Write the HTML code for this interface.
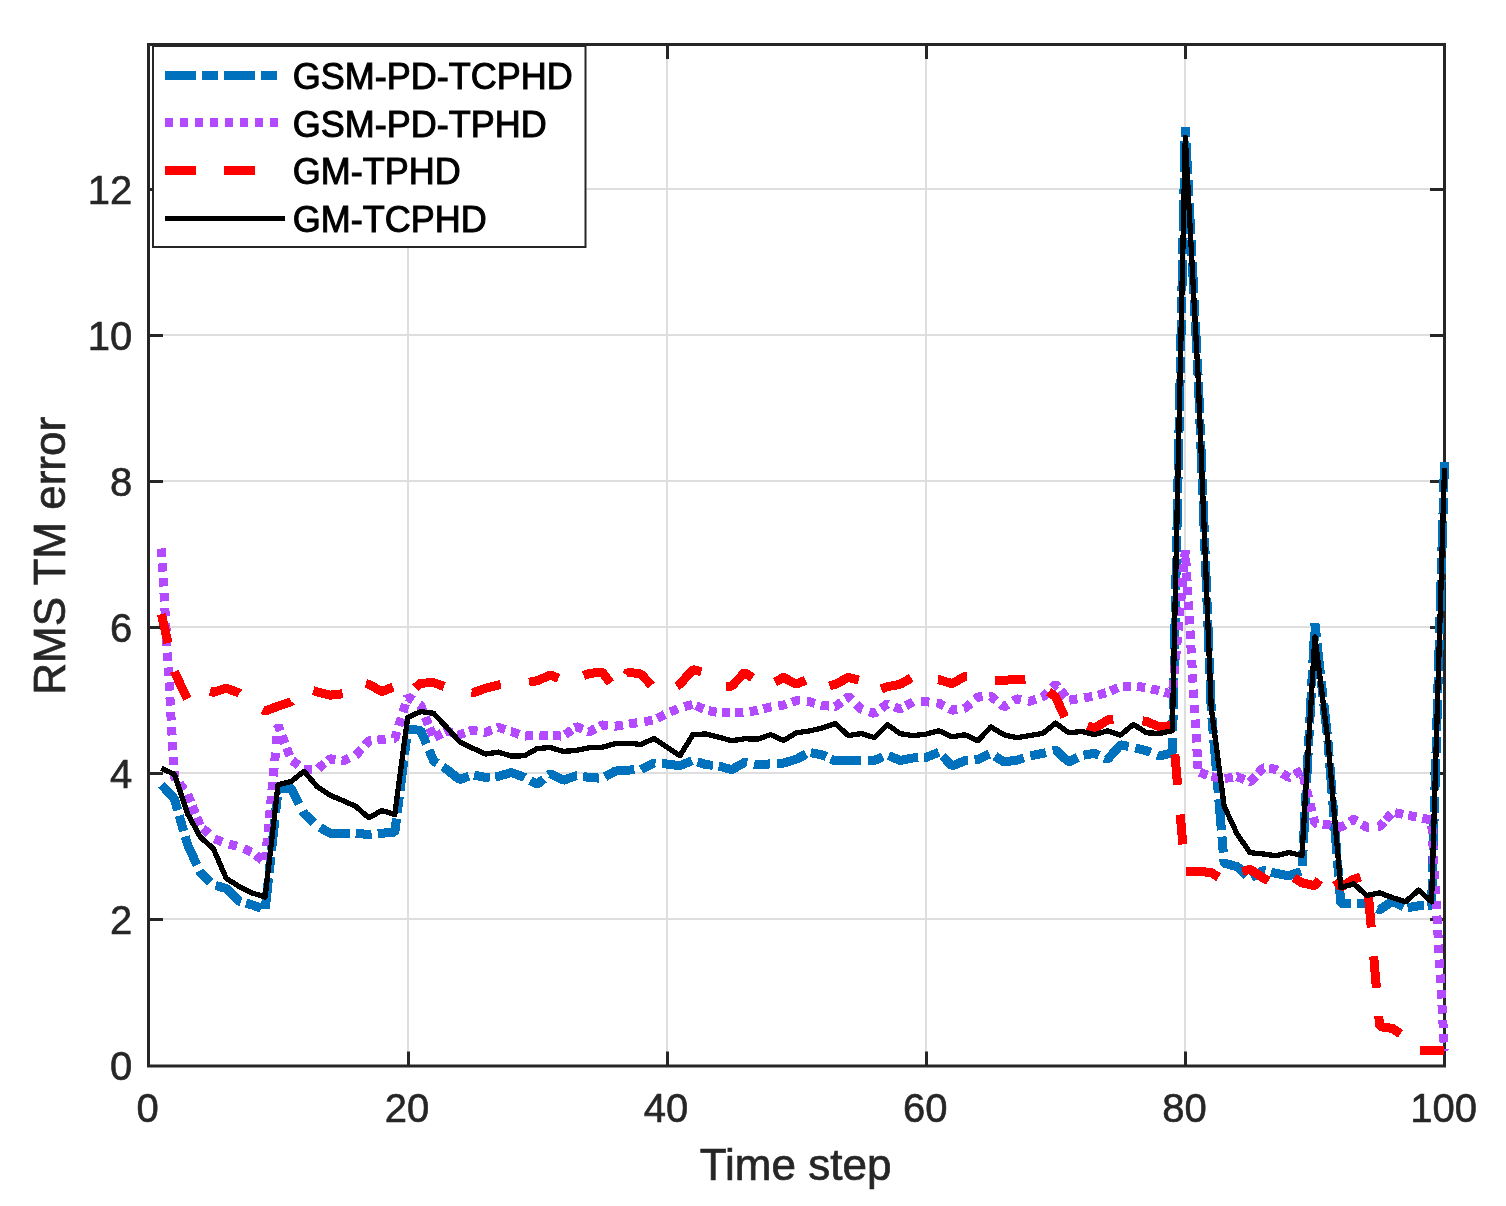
<!DOCTYPE html>
<html lang="en"><head><meta charset="utf-8"><title>RMS TM error</title>
<style>
html,body{margin:0;padding:0;background:#fff;}
body{width:1506px;height:1206px;overflow:hidden;}
svg{display:block;}
text{font-family:"Liberation Sans",Arial,Helvetica,sans-serif;}
.tk{font-size:40px;fill:#262626;stroke:#262626;stroke-width:.6px;}
.lb{font-size:44px;fill:#262626;stroke:#262626;stroke-width:.7px;}
.lg{font-size:36px;fill:#000;stroke:#000;stroke-width:1px;}
.d{fill:none;stroke-linejoin:bevel;stroke-linecap:butt;shape-rendering:crispEdges;}
.k{fill:none;stroke-linejoin:round;stroke-linecap:butt;shape-rendering:crispEdges;}
</style></head><body>
<svg width="1506" height="1206" viewBox="0 0 1506 1206">
<rect x="0" y="0" width="1506" height="1206" fill="#ffffff"/>
<path d="M408,44.5V1066M667,44.5V1066M926,44.5V1066M1185,44.5V1066M148.5,919H1444.5M148.5,773H1444.5M148.5,627H1444.5M148.5,481H1444.5M148.5,335H1444.5M148.5,189H1444.5" stroke="#dedede" stroke-width="2" fill="none"/>
<path d="M408.5,1066v-14.5M408.5,44.5v14.5M667.5,1066v-14.5M667.5,44.5v14.5M926.5,1066v-14.5M926.5,44.5v14.5M1185.5,1066v-14.5M1185.5,44.5v14.5M148.5,919.5h14.5M1444.5,919.5h-14.5M148.5,773.5h14.5M1444.5,773.5h-14.5M148.5,627.5h14.5M1444.5,627.5h-14.5M148.5,481.5h14.5M1444.5,481.5h-14.5M148.5,335.5h14.5M1444.5,335.5h-14.5M148.5,189.5h14.5M1444.5,189.5h-14.5" stroke="#262626" stroke-width="3" fill="none"/>
<rect x="148.5" y="44.5" width="1296.0" height="1021.5" fill="none" stroke="#262626" stroke-width="3"/>
<path class="d" d="M161.46,784.76L174.42,798.85L177.68,810.25M179.24,815.68L183.64,831.06M185.20,836.50L187.38,844.11L197.00,865.09M199.63,870.80L200.34,872.36L210.57,882.33M215.70,885.61L226.26,888.35L239.22,901.20L240.99,901.70M245.94,903.13L252.18,904.92L261.08,908.28M265.23,909.00L268.54,878.18M269.17,872.34L270.88,856.43M271.51,850.60L274.83,819.78M275.62,812.42L277.33,796.51M278.30,789.34L291.06,787.90L299.27,804.09M302.87,811.18L304.02,813.45L313.74,822.76M320.00,827.56L329.94,833.16L342.90,833.16L349.53,833.16M355.74,833.16L355.86,833.16L368.82,834.62L371.64,834.30M377.80,833.61L381.78,833.16L394.74,832.43L396.49,818.53M397.22,812.70L399.22,796.82M399.96,790.99L403.83,760.23M404.56,754.40L406.56,738.53M407.30,732.70L407.70,729.50L420.66,730.23L426.42,743.86M429.06,750.10L433.62,760.89L437.21,763.22M442.90,766.90L446.58,769.28L459.54,779.65L468.91,776.11M474.10,775.07L485.46,777.31L489.86,776.94M495.30,776.48L498.42,776.22L511.38,772.57L524.34,777.31L524.87,777.60M530.46,780.59L537.30,784.25L543.69,779.03M548.60,775.02L550.26,773.66L563.22,780.31L576.18,775.71L576.72,775.78M583.09,776.57L589.14,777.31L599.01,778.15M605.00,776.78L615.06,771.11L628.02,770.09L634.47,769.87M641.07,769.61L653.94,763.08L655.50,763.19M662.10,763.68L666.90,764.03L679.86,765.71L692.02,760.78M697.41,761.90L705.78,764.54L712.96,765.35M718.60,765.98L718.74,766.00L731.70,769.65L744.66,762.35L747.13,762.86M754.11,764.32L757.62,765.05L769.98,763.87M777.10,763.44L783.54,763.08L796.50,759.06L806.27,754.06M810.85,752.70L822.42,755.05L826.24,756.77M830.80,758.83L835.38,760.89L848.34,760.45L861.30,760.45L861.35,760.45M867.57,760.45L874.26,760.45L882.86,756.87M888.60,755.63L900.18,760.52L913.14,757.97L918.35,757.74M923.74,757.49L926.10,757.39L938.74,752.26M942.50,755.81L952.02,766.00L964.98,760.67L968.01,760.38M974.58,759.75L977.94,759.43L989.38,754.08M995.00,756.10L1003.86,761.98L1016.82,760.16L1023.76,757.97M1030.37,755.95L1042.74,753.37L1046.00,752.55M1052.70,750.85L1055.70,750.09L1068.66,761.98L1077.86,757.32M1083.58,755.11L1094.58,753.37L1098.98,755.43M1104.60,758.06L1107.54,759.43L1120.50,744.83L1128.58,746.42M1135.38,747.87L1146.42,750.67L1150.68,752.44M1157.10,755.12L1159.38,756.07L1172.34,752.86L1172.65,737.69M1172.79,731.33L1173.12,715.33M1173.25,708.97L1173.89,677.98M1174.02,671.62L1174.36,655.63M1174.49,649.27L1175.13,618.28M1175.26,611.92L1175.59,595.92M1175.72,589.56L1176.37,558.57M1176.50,552.21L1176.83,536.22M1176.96,529.86L1177.60,498.87M1177.74,492.51L1178.07,476.51M1178.20,470.15L1178.84,439.16M1178.97,432.80L1179.31,416.81M1179.44,410.45L1180.08,379.46M1180.21,373.10L1180.54,357.10M1180.68,350.74L1181.32,319.75M1181.45,313.39L1181.78,297.40M1181.91,291.04L1182.56,260.05M1182.69,253.69L1183.02,237.69M1183.15,231.33L1183.79,200.34M1183.92,193.98L1184.26,177.99M1184.39,171.63L1185.03,140.64M1185.16,134.28L1185.30,127.61L1185.78,136.94M1186.11,143.29L1187.70,174.25M1188.03,180.60L1188.85,196.58M1189.18,202.93L1190.78,233.89M1191.10,240.24L1191.93,256.22M1192.25,262.57L1193.85,293.53M1194.18,299.88L1195.00,315.85M1195.33,322.21L1196.92,353.16M1197.25,359.51L1198.07,375.49M1198.37,381.85L1199.58,412.82M1199.83,419.18L1200.46,435.16M1200.71,441.52L1201.93,472.49M1202.18,478.85L1202.81,494.84M1203.06,501.19L1204.27,532.17M1204.52,538.52L1205.15,554.51M1205.40,560.86L1206.62,591.84M1206.87,598.19L1207.49,614.18M1207.74,620.53L1208.96,651.51M1209.21,657.86L1209.84,673.85M1210.09,680.20L1211.22,709.06L1211.40,711.18M1211.93,717.51L1213.27,733.46M1213.80,739.79L1216.40,770.68M1216.93,777.02L1218.27,792.96M1218.81,799.30L1221.40,830.19M1221.94,836.62L1223.28,852.57M1223.82,859.00L1224.18,863.24L1237.14,866.59L1246.95,875.66M1251.41,877.75L1263.06,870.54L1265.30,871.02M1271.00,872.24L1276.02,873.31L1288.98,875.79L1300.90,871.49M1302.22,865.72L1303.06,849.74M1303.40,843.24L1305.02,812.28M1305.36,805.78L1306.20,789.80M1306.54,783.29L1308.16,752.34M1308.50,745.83L1309.34,729.86M1309.68,723.35L1311.30,692.39M1311.64,685.89L1312.48,669.91M1312.82,663.41L1314.44,632.45M1314.78,625.95L1314.90,623.65L1316.41,637.27M1317.13,643.74L1320.55,674.55M1321.27,681.02L1323.03,696.93M1323.75,703.40L1327.17,734.21M1327.88,740.68L1329.15,756.63M1329.66,763.13L1332.12,794.03M1332.63,800.52L1333.90,816.47M1334.41,822.96L1336.87,853.87M1337.38,860.36L1338.65,876.31M1339.17,882.80L1340.82,903.61L1350.95,903.61M1356.71,903.52L1366.74,903.24L1372.06,905.94M1377.20,908.54L1379.70,909.81L1392.66,901.05L1403.73,906.97M1407.65,907.64L1418.58,905.79L1423.50,905.79M1427.70,905.79L1431.54,905.79L1432.33,878.65M1432.52,872.28L1432.99,856.29M1433.17,849.93L1434.08,818.94M1434.26,812.58L1434.73,796.59M1434.92,790.22L1435.82,759.24M1436.01,752.87L1436.48,736.88M1436.66,730.52L1437.57,699.53M1437.75,693.17L1438.22,677.18M1438.41,670.81L1439.31,639.83M1439.50,633.47L1439.97,617.47M1440.15,611.11L1441.06,580.12M1441.24,573.76L1441.71,557.77M1441.90,551.40L1442.80,520.42M1442.99,514.06L1443.46,498.06M1443.64,491.70L1444.50,462.32" stroke="#0072bd" stroke-width="9"/>
<path class="d" d="M161.46,548.46L161.93,556.75M162.30,563.33L162.77,571.62M163.15,578.21L163.62,586.50M163.99,593.08L164.46,601.37M164.83,607.96L165.30,616.25M165.68,622.83L166.15,631.12M166.52,637.71L166.99,645.99M167.37,652.58L167.84,660.87M168.21,667.46L168.68,675.74M169.06,682.37L169.53,690.66M169.90,697.29L170.37,705.58M170.75,712.21L171.22,720.49M171.59,727.12L172.06,735.41M172.44,742.04L172.91,750.33M173.29,756.96L173.76,765.24M174.08,770.92L174.42,776.95L175.80,778.74M179.27,783.24L184.34,789.81M187.65,794.40L190.75,802.10M192.31,805.96L195.41,813.65M196.97,817.51L200.08,825.21M202.82,828.26L208.78,834.04M214.52,838.89L222.28,841.85M228.98,844.07L237.02,846.11M243.80,848.68L251.40,852.02M255.61,855.01L262.19,860.08M265.33,860.32L266.11,852.06M266.66,846.31L267.44,838.04M267.98,832.29L268.76,824.03M269.30,818.28L270.08,810.01M270.63,804.26L271.41,796.00M271.95,790.25L272.73,781.98M273.27,776.23L274.05,767.97M274.71,761.03L275.49,752.77M276.30,744.15L277.08,735.88M277.90,727.26L278.10,725.12L280.25,730.88M282.00,735.55L284.90,743.32M286.65,747.99L289.55,755.76M292.05,760.52L298.75,765.42M303.87,769.18L304.02,769.28L312.14,769.51M318.13,768.68L324.47,763.32M327.82,760.49L329.94,758.70L335.39,759.62M341.40,760.64L342.90,760.89L349.08,758.10M355.80,755.08L355.86,755.05L361.39,748.95M365.01,744.94L368.82,740.74L371.44,740.54M377.36,740.07L381.78,739.72L385.64,739.44M393.86,738.84L394.74,738.77L396.92,731.68M398.72,725.85L401.16,717.92M402.95,712.08L405.39,704.15M407.19,698.31L407.70,696.65L413.14,700.33M419.30,704.49L420.66,705.41L423.15,711.59M425.35,717.03L428.45,724.72M429.67,727.74L432.77,735.43M434.50,737.08L441.90,733.33M444.38,732.08L446.58,730.96L452.19,732.54M456.83,733.85L459.54,734.61L464.73,732.86M469.43,731.27L472.50,730.23L477.49,731.07M484.06,732.18L485.46,732.42L491.86,729.90M497.39,727.72L498.42,727.31L505.23,729.61M511.37,731.69L511.38,731.69L519.23,734.34M524.85,736.05L533.15,735.72M539.45,735.61L547.75,735.79M552.75,735.89L561.05,736.03M565.15,734.66L571.85,729.75M575.11,727.36L576.18,726.58L582.65,729.20M587.98,731.36L589.14,731.84L595.37,728.54M599.85,726.16L602.10,724.97L607.83,725.55M614.80,726.26L615.06,726.29L623.00,724.99M629.00,724.02L637.20,722.77M644.31,721.64L652.49,720.25M657.32,718.26L664.68,714.44M670.16,711.95L677.84,708.80M684.41,706.66L692.39,704.37M696.10,705.68L703.70,709.02M708.54,710.53L716.66,712.26M721.75,712.71L730.05,712.71M735.06,712.52L743.34,712.05M749.68,711.41L757.62,710.52L757.91,710.44M763.41,708.89L770.58,706.87L771.42,706.75M778.29,705.78L783.54,705.04L786.38,704.08M791.77,702.26L796.50,700.66L799.79,700.94M806.82,701.54L809.46,701.76L814.89,703.29M820.82,704.96L822.42,705.41L829.03,706.04M834.79,706.59L835.38,706.65L841.49,701.94M845.56,698.79L848.34,696.65L851.77,699.99M856.03,704.14L861.30,709.28L862.19,709.57M869.35,711.86L874.26,713.44L876.79,711.58M881.25,708.32L887.22,703.95L888.06,704.28M894.44,706.80L900.18,709.06L902.04,708.02M905.88,705.85L913.12,701.77M921.05,701.76L926.10,701.76L929.33,702.12M936.56,702.94L939.06,703.22L944.15,705.97M949.33,708.77L952.02,710.23L957.21,709.47M964.19,708.45L964.98,708.33L970.62,703.38M975.17,699.38L977.94,696.94L982.54,696.71M989.46,696.36L990.90,696.28L996.21,700.63M1000.96,704.50L1003.86,706.87L1007.73,704.47M1013.36,700.98L1016.82,698.84L1020.98,699.64M1028.11,701.00L1029.78,701.32L1036.03,699.21M1041.54,697.35L1042.74,696.94L1047.76,692.02M1052.14,687.73L1055.70,684.24L1057.78,686.82M1060.69,690.43L1065.91,696.89M1069.21,700.21L1077.39,698.82M1084.10,697.73L1092.30,696.49M1098.02,695.11L1105.98,692.74M1110.42,690.97L1117.98,687.56M1122.75,686.34L1131.05,686.01M1136.99,686.40L1145.21,687.51M1151.07,688.80L1159.13,690.75M1164.41,692.23L1172.34,694.46L1172.35,694.40M1172.91,688.18L1173.65,679.91M1174.21,673.69L1174.96,665.43M1175.52,659.20L1176.26,650.94M1176.82,644.72L1177.57,636.45M1178.13,630.23L1178.87,621.96M1179.43,615.74L1180.18,607.47M1180.74,601.25L1181.49,592.98M1182.05,586.76L1182.79,578.49M1183.35,572.27L1184.10,564.01M1184.66,557.78L1185.30,550.65L1185.37,551.79M1185.73,558.02L1186.22,566.31M1186.58,572.54L1187.07,580.83M1187.43,587.07L1187.92,595.35M1188.28,601.59L1188.77,609.88M1189.14,616.11L1189.62,624.40M1189.99,630.63L1190.47,638.92M1190.84,645.16L1191.32,653.44M1191.69,659.76L1192.18,668.04M1192.55,674.36L1193.03,682.64M1193.44,689.66L1193.93,697.94M1194.34,704.96L1194.83,713.24M1195.20,719.56L1195.68,727.84M1196.05,734.16L1196.54,742.44M1196.91,748.76L1197.39,757.04M1197.63,761.01L1198.11,769.30M1199.60,772.33L1207.40,775.19M1211.40,776.61L1219.60,777.91M1224.70,778.55L1232.90,777.25M1236.86,776.63L1237.14,776.58L1244.52,779.70M1249.81,781.94L1250.10,782.06L1255.51,776.18M1257.89,773.59L1263.06,767.97L1263.72,768.04M1269.17,768.59L1276.02,769.28L1277.21,770.05M1282.42,773.43L1288.98,777.68L1289.40,777.44M1294.53,774.55L1301.76,770.48M1303.29,775.90L1305.26,783.97M1306.65,789.69L1308.62,797.75M1310.02,803.47L1311.99,811.53M1313.39,817.25L1314.90,823.45L1316.81,823.64M1322.67,824.24L1327.86,824.76L1330.89,825.36M1337.42,826.65L1340.82,827.32L1344.93,824.77M1349.77,821.77L1353.78,819.29L1356.83,821.18M1361.77,824.24L1366.74,827.32L1369.19,827.21M1377.81,826.82L1379.70,826.74L1383.95,821.94M1385.75,819.93L1391.25,813.72M1395.04,812.65L1403.16,814.38M1408.33,815.44L1416.47,817.05M1422.33,818.20L1430.47,819.81M1431.86,825.69L1432.32,833.97M1432.70,840.73L1433.17,849.02M1433.55,855.77L1434.01,864.06M1434.39,870.81L1434.86,879.10M1435.24,885.86L1435.70,894.14M1436.08,900.76L1436.54,909.04M1436.91,915.66L1437.38,923.94M1437.71,929.76L1438.17,938.04M1438.54,944.66L1439.01,952.94M1439.38,959.56L1439.84,967.84M1440.22,974.56L1440.69,982.84M1441.10,990.26L1441.57,998.54M1441.95,1005.26L1442.41,1013.54M1442.76,1019.76L1443.23,1028.04M1443.58,1034.26L1444.04,1042.54M1444.40,1048.98L1444.50,1050.70" stroke="#b34aff" stroke-width="9"/>
<path class="d" d="M161.46,614.16L167.94,643.00M174.40,671.74L174.42,671.83L187.30,698.96M209.90,691.41L213.30,692.27L226.26,688.11L239.22,693.00L239.60,693.31M262.80,709.69L265.14,711.03L278.10,706.14L291.06,701.76L291.40,701.40M313.30,690.70L316.98,691.76L329.94,695.19L342.60,693.76M365.90,683.58L368.82,684.24L381.78,691.54L393.10,687.08M415.30,687.92L420.66,683.14L433.62,682.78L444.20,686.36M471.40,692.75L472.50,693.00L485.46,688.33L498.42,684.97L500.70,684.74M529.00,682.19L537.30,680.74L550.26,675.04L558.50,678.24M583.70,675.67L589.14,673.44L602.10,672.12L610.30,683.02M626.00,674.81L628.02,672.12L640.98,674.02L651.50,685.40M676.70,686.02L679.86,684.24L692.82,669.64L701.30,671.69M725.90,686.06L731.70,686.06L744.66,672.56L752.50,677.86M775.10,681.87L783.54,677.45L796.50,684.24L805.60,680.14M829.50,685.96L835.38,684.24L848.34,677.45L858.70,679.96M881.30,689.02L887.22,686.72L900.18,684.24L911.30,677.98M937.80,679.59L939.06,679.71L952.02,683.66L964.98,676.36L967.10,676.57M995.00,680.37L1003.86,680.37L1016.82,679.28L1025.50,679.18M1048.70,691.66L1055.70,696.94L1064.70,717.02M1087.60,725.65L1094.58,728.40L1107.54,720.01L1113.40,719.61M1142.50,720.76L1146.42,721.47L1159.38,726.80L1170.30,725.69M1174.89,754.30L1177.59,784.80M1180.22,814.50L1182.87,844.40M1186.00,871.82L1198.26,871.27L1211.22,872.58L1218.60,877.15M1242.50,871.65L1250.10,869.29L1263.06,877.84L1268.40,880.87M1293.90,877.68L1301.94,882.80L1314.90,885.72L1319.30,879.77M1335.80,879.83L1340.82,887.18L1353.78,879.15L1360.50,877.11M1368.59,896.80L1371.21,927.40M1373.68,956.30L1376.38,987.80M1378.79,1016.00L1379.70,1026.61L1392.66,1028.43L1400.40,1033.88M1420.00,1050.70L1431.54,1050.70L1444.46,1050.70" stroke="#ff0000" stroke-width="9"/>
<path class="k" d="M161.46,768.19L174.42,774.39L187.38,813.45L200.34,837.10L213.30,848.49L226.26,878.42L239.22,886.45L252.18,893.02L265.14,896.96L278.10,784.62L291.06,781.55L304.02,771.33L316.98,786.44L329.94,795.20L342.90,800.53L355.86,806.51L368.82,817.83L381.78,810.53L394.74,814.47L407.70,717.53L420.66,711.54L433.62,713.29L446.58,727.31L459.54,741.69L472.50,748.12L485.46,754.03L498.42,752.13L511.38,756.07L524.34,755.78L537.30,748.48L550.26,747.53L563.22,751.40L576.18,750.45L589.14,747.75L602.10,747.17L615.06,743.81L628.02,743.15L640.98,744.46L653.94,738.48L666.90,747.17L679.86,755.78L692.82,734.76L705.78,733.88L718.74,737.16L731.70,740.74L744.66,738.77L757.62,739.14L770.58,734.61L783.54,740.45L796.50,732.78L809.46,730.96L822.42,727.89L835.38,723.66L848.34,735.56L861.30,733.59L874.26,737.53L887.22,724.54L900.18,733.66L913.14,735.70L926.10,734.10L939.06,730.81L952.02,736.80L964.98,734.76L977.94,740.74L990.90,726.80L1003.86,734.76L1016.82,737.68L1029.78,735.49L1042.74,733.44L1055.70,723.15L1068.66,732.78L1081.62,731.47L1094.58,734.61L1107.54,730.81L1120.50,735.05L1133.46,724.39L1146.42,732.78L1159.38,733.44L1172.34,730.81L1185.30,137.47L1198.26,379.83L1211.22,707.60L1224.18,806.15L1237.14,834.04L1250.10,852.65L1263.06,853.96L1276.02,855.72L1288.98,852.43L1301.94,855.57L1314.90,636.79L1327.86,740.45L1340.82,887.69L1353.78,883.75L1366.74,895.50L1379.70,892.87L1392.66,897.76L1405.62,901.78L1418.58,890.10L1431.54,901.78L1444.50,468.16" stroke="#000000" stroke-width="5.3"/>
<rect x="153" y="46" width="432.5" height="201" fill="#ffffff" stroke="#262626" stroke-width="2"/>
<path class="d" d="M165,75.5H278" stroke="#0072bd" stroke-width="9" stroke-dasharray="31 6 16 6"/>
<path class="d" d="M165,122.5H278" stroke="#b34aff" stroke-width="9" stroke-dasharray="8 7"/>
<path class="d" d="M165,170.6H255" stroke="#ff0000" stroke-width="9" stroke-dasharray="31 28"/>
<path class="d" d="M165,218.5H285" stroke="#000000" stroke-width="5"/>
<text class="lg" x="292.7" y="88.9">GSM-PD-TCPHD</text>
<text class="lg" x="292.7" y="136.6">GSM-PD-TPHD</text>
<text class="lg" x="292.7" y="184.2">GM-TPHD</text>
<text class="lg" x="292.7" y="232">GM-TCPHD</text>
<text class="tk" x="147.70" y="1122.4" text-anchor="middle">0</text>
<text class="tk" x="406.90" y="1122.4" text-anchor="middle">20</text>
<text class="tk" x="666.10" y="1122.4" text-anchor="middle">40</text>
<text class="tk" x="925.30" y="1122.4" text-anchor="middle">60</text>
<text class="tk" x="1184.50" y="1122.4" text-anchor="middle">80</text>
<text class="tk" x="1443.70" y="1122.4" text-anchor="middle">100</text>
<text class="tk" x="132.3" y="1079.60" text-anchor="end">0</text>
<text class="tk" x="132.3" y="933.60" text-anchor="end">2</text>
<text class="tk" x="132.3" y="787.60" text-anchor="end">4</text>
<text class="tk" x="132.3" y="641.60" text-anchor="end">6</text>
<text class="tk" x="132.3" y="495.60" text-anchor="end">8</text>
<text class="tk" x="132.3" y="349.60" text-anchor="end">10</text>
<text class="tk" x="132.3" y="203.60" text-anchor="end">12</text>
<text class="lb" x="795.6" y="1179.5" text-anchor="middle">Time step</text>
<text class="lb" transform="translate(65,555.8) rotate(-90)" text-anchor="middle">RMS TM error</text>
</svg></body></html>
